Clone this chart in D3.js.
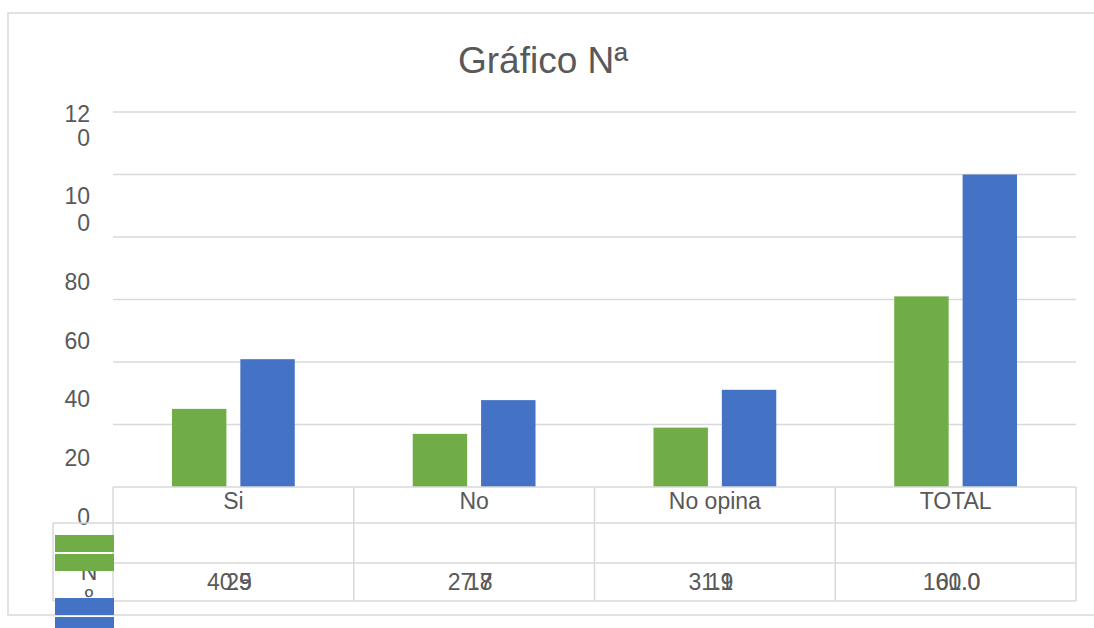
<!DOCTYPE html>
<html>
<head>
<meta charset="utf-8">
<script src="https://cdn.jsdelivr.net/npm/d3@7"></script>
<style>
  html, body { margin: 0; padding: 0; background: #fff; }
  svg { display: block; font-family: "Liberation Sans", Arial, sans-serif; }
</style>
</head>
<body>
<svg id="chart" width="1094" height="628"></svg>
<script>
// ---- data ----
const categories = ["Si", "No", "No opina", "TOTAL"];
const seriesNames = ["Nº", "%"];
const countValues = [25, 17, 19, 61];          // green series
const percentValues = [40.9, 27.8, 31.1, 100]; // blue series
const countLabels = ["25", "17", "19", "61.0"];
const percentLabels = ["40.9", "27.8", "31.1", "100.0"];
const yTicks = [0, 20, 40, 60, 80, 100, 120];
const yTickLabels = ["0", "20", "40", "60", "80", "10\n0", "12\n0"];
const colors = ["#70AD47", "#4472C4"];

const svg = d3.select("#chart");
const textColor = "#595959";
const lineColor = "#d9d9d9";
const fs = 23;

// outer chart border
svg.append("rect").attr("x", 8).attr("y", 13).attr("width", 1110).attr("height", 602)
  .attr("fill", "none").attr("stroke", lineColor).attr("stroke-width", 1.5);

// title
svg.append("text").attr("x", 543).attr("y", 73).attr("text-anchor", "middle")
  .attr("font-size", 37).attr("fill", textColor).text("Gráfico Nª");

// scales
const plotLeft = 113, plotRight = 1076, plotTop = 112, plotBottom = 487;
const y = d3.scaleLinear().domain([0, 120]).range([plotBottom, plotTop]);
const x0 = d3.scaleBand().domain(categories).range([plotLeft, plotRight])
  .paddingInner(0.49).paddingOuter(0.245);
const x1 = d3.scaleBand().domain(seriesNames).range([0, x0.bandwidth()])
  .paddingInner(0.204).paddingOuter(0);
const cat = d3.scaleBand().domain(categories).range([plotLeft, plotRight]);

// gridlines
svg.append("g").selectAll("line").data(yTicks.slice(1)).join("line")
  .attr("x1", plotLeft).attr("x2", plotRight)
  .attr("y1", d => y(d)).attr("y2", d => y(d))
  .attr("stroke", lineColor).attr("stroke-width", 1.5);

// y tick labels (displaced, wrapped like the reference)
const yLab = d3.scaleLinear().domain([0, 100, 120]).range([525, 231, 146]);
const ylg = svg.append("g").attr("font-size", fs).attr("fill", textColor).attr("text-anchor", "end");
yTicks.forEach((t, i) => {
  const lines = yTickLabels[i].split("\n");
  const lh = t === 120 ? 24 : 27;
  lines.forEach((ln, j) => {
    ylg.append("text").attr("x", 90)
      .attr("y", yLab(t) - (lines.length - 1 - j) * lh).text(ln);
  });
});

// bars
const series = [countValues, percentValues];
series.forEach((vals, si) => {
  svg.append("g").selectAll("rect").data(categories).join("rect")
    .attr("x", d => x0(d) + x1(seriesNames[si]))
    .attr("width", x1.bandwidth())
    .attr("y", (d, i) => y(vals[i]))
    .attr("height", (d, i) => y(0) - y(vals[i]))
    .attr("fill", colors[si]);
});

// data table
const rowTop = [487, 523, 563, 601];
const tbl = svg.append("g").attr("stroke", lineColor).attr("stroke-width", 1.5).attr("fill", "none");
rowTop.forEach(ry => {
  tbl.append("line").attr("x1", plotLeft).attr("x2", plotRight).attr("y1", ry).attr("y2", ry);
});
categories.forEach(c => {
  tbl.append("line").attr("x1", cat(c)).attr("x2", cat(c)).attr("y1", rowTop[0]).attr("y2", rowTop[3]);
});
tbl.append("line").attr("x1", plotRight).attr("x2", plotRight).attr("y1", rowTop[0]).attr("y2", rowTop[3]);
// legend cell
tbl.append("line").attr("x1", 53).attr("x2", plotLeft).attr("y1", rowTop[1]).attr("y2", rowTop[1]);
tbl.append("line").attr("x1", 53).attr("x2", 53).attr("y1", rowTop[1]).attr("y2", rowTop[3]);
tbl.append("line").attr("x1", 53).attr("x2", plotLeft).attr("y1", rowTop[3]).attr("y2", rowTop[3]);

const tt = svg.append("g").attr("font-size", fs).attr("fill", textColor).attr("text-anchor", "middle");
categories.forEach((c, i) => {
  const cx = cat(c) + cat.bandwidth() / 2;
  tt.append("text").attr("x", cx).attr("y", 509).text(c);
  const pt = tt.append("text").attr("x", cx - 4).attr("y", 590).text(percentLabels[i]);
  const bb = pt.node().getBBox();
  tt.append("text").attr("text-anchor", "end").attr("x", bb.x + bb.width).attr("y", 590).text(countLabels[i]);
});

// legend row label (garbled, partly hidden)
tt.append("text").attr("x", 89).attr("y", 580).text("N");
tt.append("text").attr("x", 89).attr("y", 604).text("º");

// legend keys
const keyY = [[535, 554], [598, 617]];
seriesNames.forEach((s, si) => {
  svg.append("g").selectAll("rect").data(keyY[si]).join("rect")
    .attr("x", 55).attr("width", 59).attr("y", d => d).attr("height", 17)
    .attr("fill", colors[si]);
});
</script>
</body>
</html>
